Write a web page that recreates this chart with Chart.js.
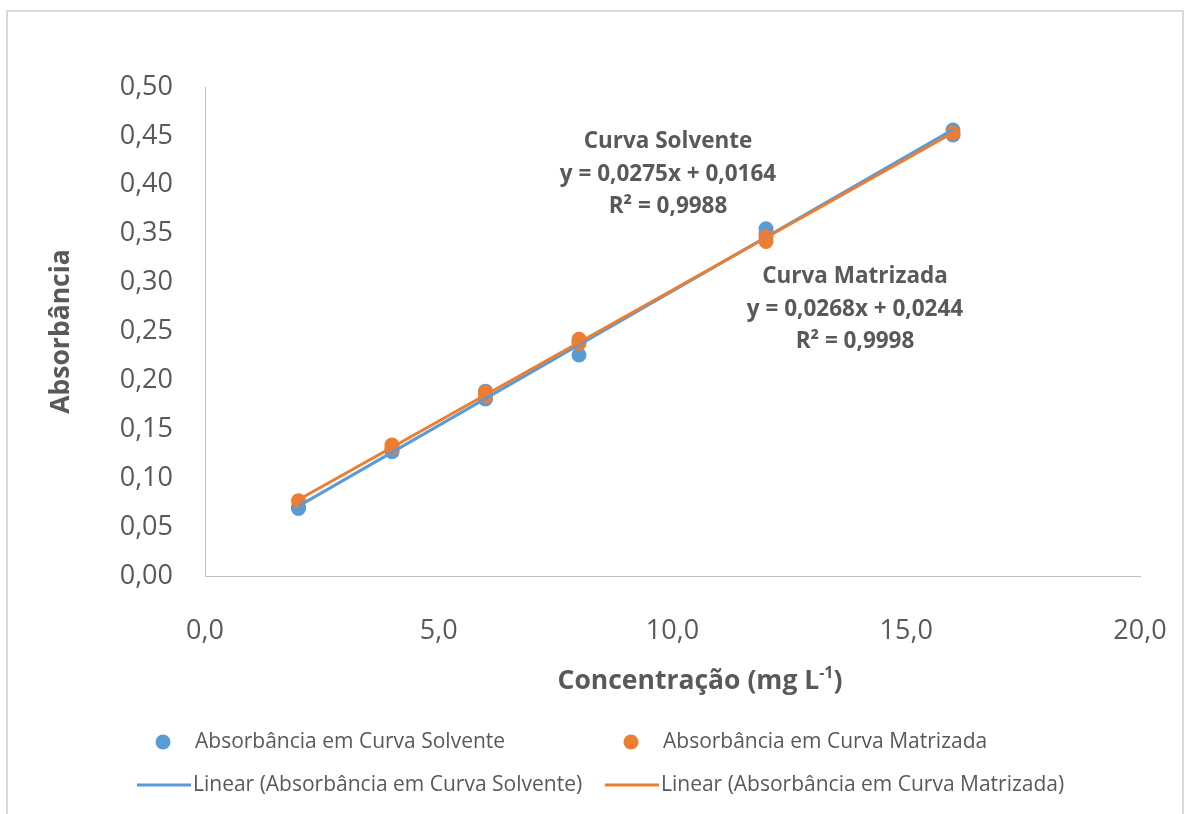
<!DOCTYPE html>
<html>
<head>
<meta charset="utf-8">
<script src="https://cdn.jsdelivr.net/npm/chart.js@4.4.1/dist/chart.umd.min.js"></script>
<style>
  html, body { margin: 0; padding: 0; background: #ffffff; }
  #wrap { width: 1187px; height: 814px; position: relative; }
</style>
</head>
<body>
<div id="wrap"><canvas id="c" width="1187" height="814"></canvas></div>
<script>
// Calibration data: concentration (mg/L) and measured absorbance, replicates included
const concSolvente = [2, 2, 4, 4, 6, 6, 8, 8, 12, 12, 16, 16];
const absSolvente  = [0.069, 0.070, 0.127, 0.129, 0.181, 0.189, 0.226, 0.240, 0.355, 0.350, 0.456, 0.451];

const concMatrizada = [2, 4, 4, 6, 6, 8, 8, 12, 12, 16];
const absMatrizada  = [0.077, 0.134, 0.131, 0.188, 0.184, 0.242, 0.238, 0.347, 0.342, 0.453];

// Least-squares fits: [slope, intercept, R²]
const fitSolvente  = [0.0275, 0.0164, 0.9988];
const fitMatrizada = [0.0268, 0.0244, 0.9998];
const fitRange = [2, 16];

// Axis ticks
const yTicks = [0, 0.05, 0.10, 0.15, 0.20, 0.25, 0.30, 0.35, 0.40, 0.45, 0.50];
const xTicks = [0, 5, 10, 15, 20];

const labelSolvente  = 'Absorbância em Curva Solvente';
const labelMatrizada = 'Absorbância em Curva Matrizada';

const BLUE = '#5b9bd5';
const ORANGE = '#ed7d31';
const TEXT = '#595959';
const FONT = "'Open Sans', 'Liberation Sans', sans-serif";

const toPoints = (xs, ys) => xs.map((x, i) => ({ x: x, y: ys[i] }));
const fitLine = (fit) => fitRange.map(x => ({ x: x, y: fit[0] * x + fit[1] }));
const fmt = (v, d) => v.toFixed(d).replace('.', ',');

// Outer frame of the chart
const framePlugin = {
  id: 'frame',
  beforeDraw(chart) {
    const ctx = chart.ctx;
    ctx.save();
    ctx.fillStyle = '#ffffff';
    ctx.fillRect(0, 0, chart.width, chart.height);
    ctx.strokeStyle = '#d9d9d9';
    ctx.lineWidth = 2;
    ctx.strokeRect(7, 11, 1176, 830);
    ctx.restore();
  }
};

// Regression equations next to each curve
const equationPlugin = {
  id: 'equations',
  afterDraw(chart) {
    const ctx = chart.ctx;
    ctx.save();
    ctx.fillStyle = TEXT;
    ctx.font = 'bold 22.5px ' + FONT;
    ctx.textAlign = 'center';
    ctx.textBaseline = 'middle';
    const blocks = [
      { x: 668, y: 142, title: 'Curva Solvente', fit: fitSolvente },
      { x: 855, y: 277, title: 'Curva Matrizada', fit: fitMatrizada }
    ];
    blocks.forEach(b => {
      ctx.fillText(b.title, b.x, b.y);
      ctx.fillText('y = ' + fmt(b.fit[0], 4) + 'x + ' + fmt(b.fit[1], 4), b.x, b.y + 32.5);
      ctx.fillText('R² = ' + fmt(b.fit[2], 4), b.x, b.y + 65);
    });
    ctx.restore();
  }
};

// X axis title with superscript unit
const xTitlePlugin = {
  id: 'xTitle',
  afterDraw(chart) {
    const ctx = chart.ctx;
    ctx.save();
    ctx.fillStyle = TEXT;
    ctx.textBaseline = 'alphabetic';
    const main = 'Concentração (mg L';
    const sup = '-1';
    const tail = ')';
    const big = 'bold 26.5px ' + FONT;
    const small = 'bold 16px ' + FONT;
    ctx.font = big;
    const w1 = ctx.measureText(main).width;
    const w3 = ctx.measureText(tail).width;
    ctx.font = small;
    const w2 = ctx.measureText(sup).width;
    const total = w1 + w2 + w3;
    let x = 700 - total / 2;
    const base = 689;
    ctx.font = big;
    ctx.fillText(main, x, base);
    x += w1;
    ctx.font = small;
    ctx.fillText(sup, x, base - 11);
    x += w2;
    ctx.font = big;
    ctx.fillText(tail, x, base);
    ctx.restore();
  }
};

// Two-column legend below the plot
const legendPlugin = {
  id: 'gridLegend',
  afterDraw(chart) {
    const ctx = chart.ctx;
    const ds = chart.data.datasets;
    const cols = [137, 605];
    const rows = [742, 785];
    const items = [
      { d: ds[0], col: 0, row: 0, kind: 'dot' },
      { d: ds[1], col: 1, row: 0, kind: 'dot' },
      { d: ds[2], col: 0, row: 1, kind: 'line' },
      { d: ds[3], col: 1, row: 1, kind: 'line' }
    ];
    ctx.save();
    ctx.font = '21px ' + FONT;
    ctx.textBaseline = 'middle';
    ctx.textAlign = 'left';
    items.forEach(it => {
      const x0 = cols[it.col];
      const y = rows[it.row];
      const color = it.d.borderColor;
      if (it.kind === 'dot') {
        ctx.fillStyle = color;
        ctx.beginPath();
        ctx.arc(x0 + 26, y, 7.5, 0, Math.PI * 2);
        ctx.fill();
      } else {
        ctx.strokeStyle = color;
        ctx.lineWidth = 3;
        ctx.beginPath();
        ctx.moveTo(x0, y);
        ctx.lineTo(x0 + 54, y);
        ctx.stroke();
      }
      ctx.fillStyle = TEXT;
      ctx.fillText(it.d.label, x0 + (it.kind === 'dot' ? 58 : 56), y);
    });
    ctx.restore();
  }
};

new Chart(document.getElementById('c'), {
  type: 'scatter',
  data: {
    datasets: [
      {
        label: labelSolvente,
        data: toPoints(concSolvente, absSolvente),
        backgroundColor: BLUE, borderColor: BLUE,
        pointRadius: 7.5, pointBorderWidth: 0, order: 4
      },
      {
        label: labelMatrizada,
        data: toPoints(concMatrizada, absMatrizada),
        backgroundColor: ORANGE, borderColor: ORANGE,
        pointRadius: 7.5, pointBorderWidth: 0, order: 3
      },
      {
        label: 'Linear (' + labelSolvente + ')',
        data: fitLine(fitSolvente),
        showLine: true, borderColor: BLUE, backgroundColor: BLUE,
        borderWidth: 3, pointRadius: 0, order: 2
      },
      {
        label: 'Linear (' + labelMatrizada + ')',
        data: fitLine(fitMatrizada),
        showLine: true, borderColor: ORANGE, backgroundColor: ORANGE,
        borderWidth: 3, pointRadius: 0, order: 1
      }
    ]
  },
  options: {
    responsive: false,
    animation: false,
    layout: { padding: { left: 6, top: 87, right: 47, bottom: 0 } },
    plugins: {
      legend: { display: false },
      tooltip: { enabled: false }
    },
    scales: {
      x: {
        type: 'linear',
        min: xTicks[0], max: xTicks[xTicks.length - 1],
        afterBuildTicks: (s) => { s.ticks = xTicks.map(v => ({ value: v })); },
        afterFit: (s) => {
          s.height = 238;
          s.paddingLeft = 0;
          s.paddingRight = 0;
        },
        grid: { display: false, drawTicks: false },
        border: { display: true, color: '#bfbfbf', width: 1 },
        ticks: {
          padding: 39, color: TEXT,
          font: { family: FONT, size: 27 },
          callback: (v) => fmt(v, 1)
        }
      },
      y: {
        type: 'linear',
        min: yTicks[0], max: yTicks[yTicks.length - 1],
        afterBuildTicks: (s) => { s.ticks = yTicks.map(v => ({ value: v })); },
        afterFit: (s) => {
          s.width = 199;
          s.paddingTop = 0;
          s.paddingBottom = 0;
        },
        grid: { display: false, drawTicks: false },
        border: { display: true, color: '#bfbfbf', width: 1 },
        ticks: {
          padding: 32, color: TEXT,
          font: { family: FONT, size: 27 },
          callback: (v) => fmt(v, 2)
        },
        title: {
          display: true, text: 'Absorbância', color: TEXT,
          font: { family: FONT, size: 26.5, weight: 'bold' },
          padding: { top: 40, bottom: 0 }
        }
      }
    }
  },
  plugins: [framePlugin, equationPlugin, xTitlePlugin, legendPlugin]
});
</script>
</body>
</html>
